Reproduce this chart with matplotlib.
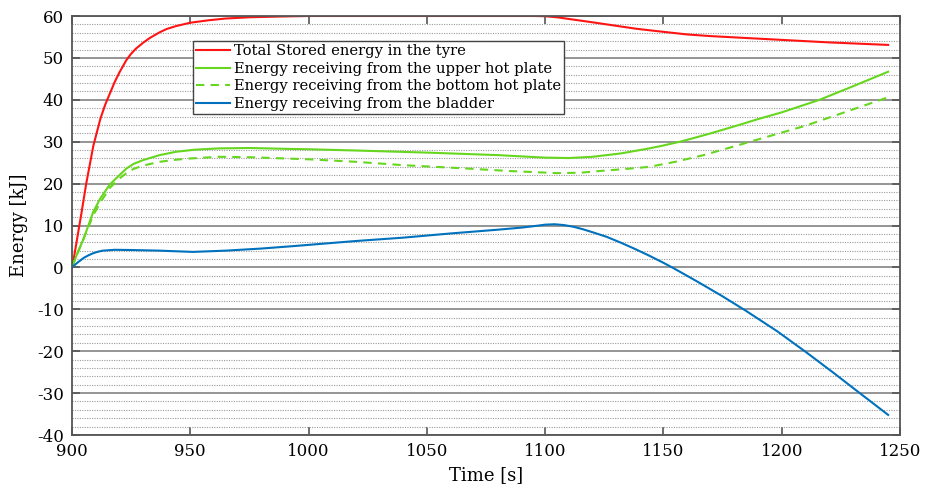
import matplotlib
matplotlib.use("Agg")
import matplotlib.pyplot as plt
from matplotlib.ticker import MultipleLocator

# ---- data ----
t_total = [900, 901, 902, 903, 904, 906, 909, 912, 914, 916, 918, 920, 923, 925, 927, 930, 933,
           937, 940, 944, 950, 958, 965, 975, 990, 1000, 1050, 1095, 1100, 1105, 1110, 1115,
           1120, 1126, 1132, 1138, 1144, 1152, 1160, 1170, 1180, 1190, 1200, 1220, 1245]
e_total = [0, 3, 6.3, 9.7, 13, 20, 29, 35.5, 38.8, 41.5, 44.2, 46.5, 49.5, 51, 52.2, 53.6, 54.8,
           56.1, 56.9, 57.6, 58.4, 59, 59.4, 59.7, 59.9, 60, 60, 60, 59.95, 59.7, 59.3, 58.9,
           58.5, 58, 57.5, 57.0, 56.6, 56.1, 55.6, 55.2, 54.9, 54.6, 54.3, 53.7, 53.1]

t_upper = [900, 902, 905, 909, 912, 916, 920, 923, 926, 930, 937, 944, 952, 962, 975, 990, 1000,
           1020, 1050, 1080, 1100, 1110, 1120, 1126, 1132, 1138, 1144, 1150, 1157, 1163, 1170,
           1182, 1190, 1200, 1208, 1216, 1230, 1245]
e_upper = [0, 3, 7, 13.3, 16.5, 19.8, 22, 23.6, 24.7, 25.6, 26.8, 27.6, 28.1, 28.4, 28.5, 28.3,
           28.2, 27.9, 27.4, 26.8, 26.2, 26.1, 26.4, 26.8, 27.2, 27.8, 28.4, 29.1, 30, 30.9, 32,
           34, 35.4, 37, 38.5, 40, 43.2, 46.7]

t_bottom = [900, 902, 905, 909, 912, 916, 920, 923, 926, 930, 937, 944, 950, 962, 975, 990, 1000,
            1020, 1040, 1067, 1085, 1105, 1115, 1125, 1132, 1144, 1155, 1167, 1180, 1194, 1210,
            1228, 1245]
e_bottom = [0, 3, 7, 12.5, 15.5, 19.0, 21.2, 22.5, 23.5, 24.3, 25.2, 25.7, 26.0, 26.4, 26.3, 26.0,
            25.8, 25.2, 24.4, 23.6, 23.0, 22.5, 22.6, 23.1, 23.4, 24.0, 25.2, 26.8, 28.9, 31.2,
            33.8, 37.3, 40.6]

t_bladder = [900, 902, 905, 907, 909, 911, 913, 918, 925, 937, 951, 965, 980, 994, 1020, 1040,
             1060, 1080, 1090, 1096, 1100, 1104, 1108, 1112, 1116, 1120, 1126, 1132, 1138, 1144,
             1150, 1154, 1160, 1165, 1175, 1185, 1198, 1210, 1222, 1233, 1245]
e_bladder = [0, 1.0, 2.3, 2.9, 3.4, 3.75, 4.0, 4.2, 4.15, 4.0, 3.7, 4.0, 4.5, 5.1, 6.3, 7.1,
             8.1, 9.0, 9.5, 9.9, 10.2, 10.3, 10.1, 9.7, 9.1, 8.4, 7.3, 5.9, 4.4, 2.8,
             1.1, -0.1, -2.0, -3.6, -6.9, -10.4, -15.2, -20.1, -25.2, -30.0, -35.2]

labels = ["Total Stored energy in the tyre",
          "Energy receiving from the upper hot plate",
          "Energy receiving from the bottom hot plate",
          "Energy receiving from the bladder"]

x_ticks = [900, 950, 1000, 1050, 1100, 1150, 1200, 1250]
y_ticks = [-40, -30, -20, -10, 0, 10, 20, 30, 40, 50, 60]

plt.rcParams['font.family'] = ['DejaVu Serif']
plt.rcParams['axes.unicode_minus'] = False

fig = plt.figure(figsize=(9.33, 4.88), dpi=100)
ax = fig.add_axes([0.0772, 0.1086, 0.8874, 0.8586])

red = '#ff1414'
green = '#66d61e'
blue = '#0072bd'

ax.plot(t_total, e_total, color=red, lw=1.5, label=labels[0])
ax.plot(t_upper, e_upper, color=green, lw=1.5, label=labels[1])
ax.plot(t_bottom, e_bottom, color=green, lw=1.5, ls=(0, (4, 3)), label=labels[2])
ax.plot(t_bladder, e_bladder, color=blue, lw=1.5, label=labels[3])

ax.set_xlim(900, 1250)
ax.set_ylim(-40, 60)
ax.set_xticks(x_ticks)
ax.set_yticks(y_ticks)
ax.yaxis.set_minor_locator(MultipleLocator(2))

ax.grid(True, axis='y', which='major', color='#8c8c8c', lw=1.3, ls='-')
ax.grid(True, axis='y', which='minor', color='#9a9a9a', lw=0.8, ls=(0, (1, 1.2)))
ax.set_axisbelow(True)

ax.tick_params(axis='both', which='major', direction='in', top=True, right=True,
               length=6, width=1.2, color='#555555', labelsize=12, pad=6)
ax.tick_params(axis='y', which='minor', left=False, right=False)
for s in ax.spines.values():
    s.set_color('#555555')
    s.set_linewidth(1.3)

ax.set_xlabel("Time [s]", fontsize=13, labelpad=4)
ax.set_ylabel("Energy [kJ]", fontsize=13, labelpad=6)

leg = ax.legend(loc='upper left', bbox_to_anchor=(0.146, 0.94), borderaxespad=0,
                fontsize=10.6, frameon=True, fancybox=False, framealpha=1,
                edgecolor='#444444', borderpad=0.2, handlelength=2.3, handletextpad=0.3,
                labelspacing=0.25)
leg.get_frame().set_linewidth(1.0)

fig.savefig("out.png", dpi=100)
